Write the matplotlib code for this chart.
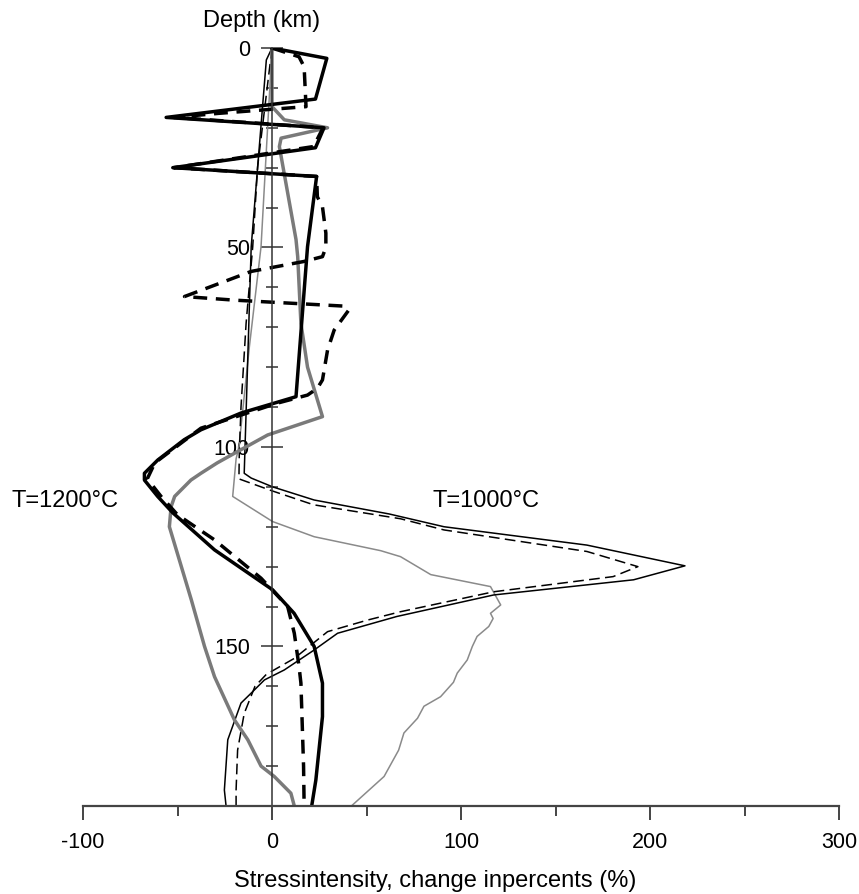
import matplotlib
matplotlib.use("Agg")
import matplotlib.pyplot as plt

plt.rcParams['font.family'] = ['Liberation Sans', 'DejaVu Sans']

# thick lines (T=1200 C)
thick_solid_d = [0, 2.6, 12.8, 17.4, 20, 25, 30, 32.2, 49.8, 87.4, 91.5, 95.7, 98.2, 103.3,
                 106.6, 108.3, 112.4, 116.5, 125.8, 135.8, 141.7, 150, 159.2, 167.6, 183.5, 190]
thick_solid_x = [0, 29, 23, -56, 27.5, 23, -52.5, 23.6, 18.8, 12.7, -16.4, -37.6, -46.5, -60.5,
                 -67.5, -67.5, -60.5, -52.5, -30.4, 0.3, 11.7, 22.3, 26.7, 26.7, 23.2, 21]

thick_dash_d = [0, 2.2, 4.7, 14.7, 16.4, 17.4, 20, 24.7, 30, 32.2, 37.3, 39.8, 46.4, 50, 52.3,
                53.5, 56, 62.3, 63.2, 64.7, 65.7, 70.7, 75.7, 83.2, 85.3, 87, 89, 95.3, 99,
                104, 108, 112.4, 117, 123.3, 132.9, 140, 146.7, 155, 159.2, 180, 190]
thick_dash_x = [0, 14.3, 17, 18, -28.7, -52, 27, 22, -52, 23.6, 24, 26.7, 28.5, 28.5, 26.7,
                17, -11, -46.3, -20, 38.2, 40.6, 32.9, 29.4, 26.7, 24, 18.8, 3, -37.6, -48,
                -62, -66, -58.7, -50, -30.4, -5.8, 8.3, 11.8, 14.3, 15.3, 16.7, 17]

thick_gray_d = [0, 14.7, 18, 20, 22.6, 24.7, 48, 52.3, 69, 80, 92.4, 97, 101.6, 104, 106.6,
                108.3, 112.4, 115, 120, 138.3, 150, 157.6, 168.4, 173.4, 180, 182.6, 186.8, 190]
thick_gray_x = [0, 0, 6.5, 29.4, 4.8, 3.9, 12.7, 13.6, 15.3, 18.8, 26.7, -2.3, -19.9, -29, -37.6,
                -42.9, -51.5, -53.4, -54.3, -42.7, -35.7, -30.4, -19.9, -12.8, -5.8, 1.2, 10, 11.8]

# thin lines (T=1000 C)
thin_solid_d = [0, 3, 49.8, 106.6, 107.8, 110, 113.3, 116.8, 120, 124.6, 129.8, 133.3, 137.1,
                142.5, 146.7, 150.9, 155.9, 158.4, 161.7, 164.2, 173.4, 186, 190]
thin_solid_x = [0, -3, -11, -14.7, -11, 0.3, 22.3, 62, 91, 166.6, 218.5, 191.3, 117.3,
                66, 34.7, 22.3, 6.5, -4, -11, -16.4, -23.4, -25.2, -24.3]

thin_dash_d = [0, 29.7, 49.8, 69, 90, 101.6, 108, 111, 114.5, 118, 120.8, 126.2, 130, 132.5,
               136.3, 141.3, 143.4, 146.3, 153, 157, 160, 166.8, 176, 186, 190]
thin_dash_x = [0, -7.6, -10.2, -13.7, -16.4, -17.3, -17.5, 0, 22, 68, 91, 166.6, 193.6, 180.5,
               117.3, 68, 50.5, 29.4, 11.8, -3, -9, -14.7, -18.2, -19, -19]

thin_gray_d = [0, 49.8, 75, 100, 103, 112.4, 118.7, 122.5, 126, 127.5, 132, 135, 139.6, 141.7,
               143, 145, 147.5, 150, 153.4, 156.7, 159, 162.6, 165, 168, 171.7, 176, 182.6, 190]
thin_gray_x = [0, -5.8, -12, -17.5, -19, -20.8, 0.3, 22.3, 57.5, 68, 84, 115.6, 121, 115.6,
               117, 114.7, 108.5, 106, 103.3, 98, 96, 89.2, 80.4, 77, 69.8, 67, 59.3, 42]

x_ticks = [-100, 0, 100, 200, 300]
x_tick_labels = ['-100', '0', '100', '200', '300']
x_minor = [-50, 50, 150, 250]
depth_ticks = [0, 50, 100, 150]
depth_minor = [10, 20, 30, 40, 60, 70, 80, 90, 110, 120, 130, 140, 160, 170, 180]

W, H = 859, 894
fig = plt.figure(figsize=(W / 100, H / 100), dpi=100)
ax = fig.add_axes([83 / W, 1 - 806 / H, (839 - 83) / W, (806 - 48) / H])

ax.plot(thin_gray_x, thin_gray_d, color='#8a8a8a', lw=1.1)
ax.plot(thin_solid_x, thin_solid_d, color='black', lw=1.1)
ax.plot(thin_dash_x, thin_dash_d, color='black', lw=1.1, dashes=(7, 3.5))
ax.plot(thick_gray_x, thick_gray_d, color='#7a7a7a', lw=2.5)
ax.plot(thick_solid_x, thick_solid_d, color='black', lw=2.5)
ax.plot(thick_dash_x, thick_dash_d, color='black', lw=2.5, dashes=(4, 2.5))

ax.set_xlim(-100, 300)
ax.set_ylim(190, 0)

for s in ['top', 'right']:
    ax.spines[s].set_visible(False)
ax.spines['left'].set_position(('data', 0))
ax.spines['left'].set_color('#333333')
ax.spines['left'].set_linewidth(1.1)
ax.spines['bottom'].set_color('#444444')
ax.spines['bottom'].set_linewidth(1.6)

ax.set_xticks(x_ticks)
ax.set_xticklabels(x_tick_labels)
ax.set_xticks(x_minor, minor=True)
ax.set_yticks(depth_ticks)
ax.set_yticklabels([str(t) for t in depth_ticks])
ax.set_yticks(depth_minor, minor=True)

ax.tick_params(axis='x', which='major', direction='out', length=10, width=1.4,
               color='#444444', labelsize=15.5, pad=9)
ax.tick_params(axis='x', which='minor', direction='out', length=7, width=1.4,
               color='#444444')
ax.tick_params(axis='y', which='major', direction='inout', length=16, width=1.1,
               color='#333333', labelsize=15.5, pad=8)
ax.tick_params(axis='y', which='minor', direction='inout', length=8, width=1.1,
               color='#333333')

ax.text(-138, 115, 'T=1200°C', fontsize=17, ha='left', va='baseline')
ax.text(85, 115, 'T=1000°C', fontsize=17, ha='left', va='baseline')

fig.text(262 / W, 1 - 27 / H, 'Depth (km)', fontsize=17, ha='center', va='baseline')
fig.text(435 / W, 1 - 887 / H, 'Stressintensity, change inpercents (%)', fontsize=17,
         ha='center', va='baseline')

fig.savefig('out.png', dpi=100)
